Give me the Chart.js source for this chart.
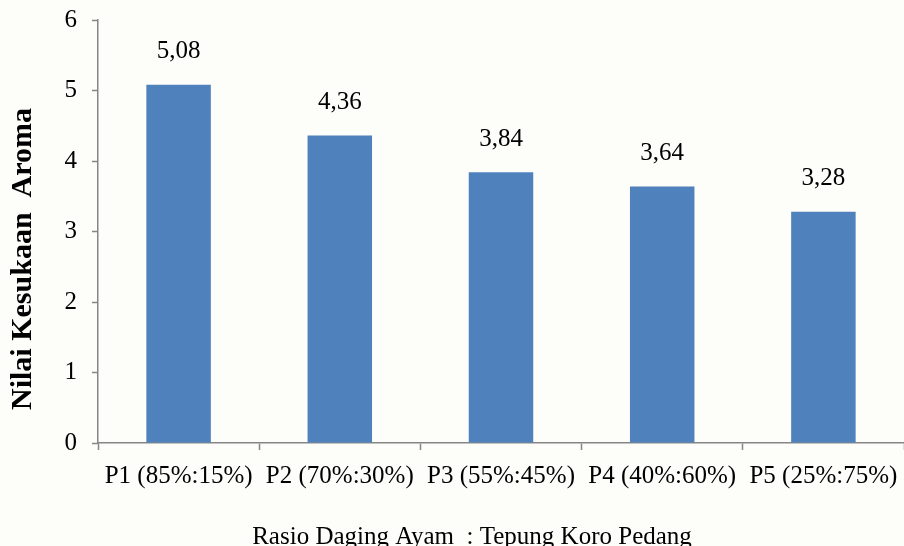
<!DOCTYPE html>
<html>
<head>
<meta charset="utf-8">
<script src="https://cdn.jsdelivr.net/npm/chart.js@4.4.1/dist/chart.umd.min.js"></script>
<style>
  html, body { margin: 0; padding: 0; background: #fdfdf9; }
  #wrap { width: 904px; height: 546px; position: relative; }
</style>
</head>
<body>
<div id="wrap"><canvas id="aromaChart" width="904" height="546"></canvas></div>
<script>
var categories = ["P1 (85%:15%)", "P2 (70%:30%)", "P3 (55%:45%)", "P4 (40%:60%)", "P5 (25%:75%)"];
var aroma = [5.08, 4.36, 3.84, 3.64, 3.28];
var yTicks = [0, 1, 2, 3, 4, 5, 6];

var serif = "'Liberation Serif', 'Times New Roman', serif";
var axisGray = "#868686";

function fmtID(n) { return n.toFixed(2).replace(".", ","); }

// value labels above each bar + the two axis titles
var labelPlugin = {
  id: "labels",
  afterDatasetsDraw: function (chart) {
    var ctx = chart.ctx;
    var meta = chart.getDatasetMeta(0);
    ctx.save();
    ctx.fillStyle = "#000";
    ctx.font = "25px " + serif;
    ctx.textAlign = "center";
    ctx.textBaseline = "middle";
    meta.data.forEach(function (bar, i) {
      ctx.fillText(fmtID(aroma[i]), bar.x, bar.y - 33);
    });
    ctx.textBaseline = "alphabetic";
    ctx.fillText("Rasio Daging Ayam  : Tepung Koro Pedang", 472, 544);
    ctx.translate(23, 259);
    ctx.rotate(-Math.PI / 2);
    ctx.textBaseline = "middle";
    ctx.font = "bold 30px " + serif;
    ctx.fillText("Nilai Kesukaan  Aroma", 0, 0);
    ctx.restore();
  }
};

new Chart(document.getElementById("aromaChart"), {
  type: "bar",
  data: {
    labels: categories,
    datasets: [{
      data: aroma,
      backgroundColor: "#4f81bd",
      borderWidth: 0,
      categoryPercentage: 1,
      barPercentage: 0.4
    }]
  },
  options: {
    responsive: false,
    animation: false,
    layout: { padding: { top: 20, right: -5, bottom: 0, left: 0 } },
    plugins: { legend: { display: false }, tooltip: { enabled: false } },
    scales: {
      x: {
        grid: { display: true, drawOnChartArea: false, offset: true, tickLength: 7, tickColor: axisGray, tickWidth: 1.5 },
        border: { color: axisGray, width: 1.5 },
        ticks: { color: "#000", font: { family: serif, size: 25 }, padding: 11, maxRotation: 0 },
        afterFit: function (s) { s.height = 103; s.paddingLeft = 0; s.paddingRight = 0; }
      },
      y: {
        min: 0,
        max: 6,
        afterBuildTicks: function (s) { s.ticks = yTicks.map(function (v) { return { value: v }; }); },
        grid: { display: true, drawOnChartArea: false, tickLength: 6, tickColor: axisGray, tickWidth: 1.5 },
        border: { color: axisGray, width: 1.5 },
        ticks: { color: "#000", font: { family: serif, size: 25 }, padding: 15 },
        afterFit: function (s) { s.width = 98; s.paddingTop = 0; s.paddingBottom = 0; }
      }
    }
  },
  plugins: [labelPlugin]
});
</script>
</body>
</html>
